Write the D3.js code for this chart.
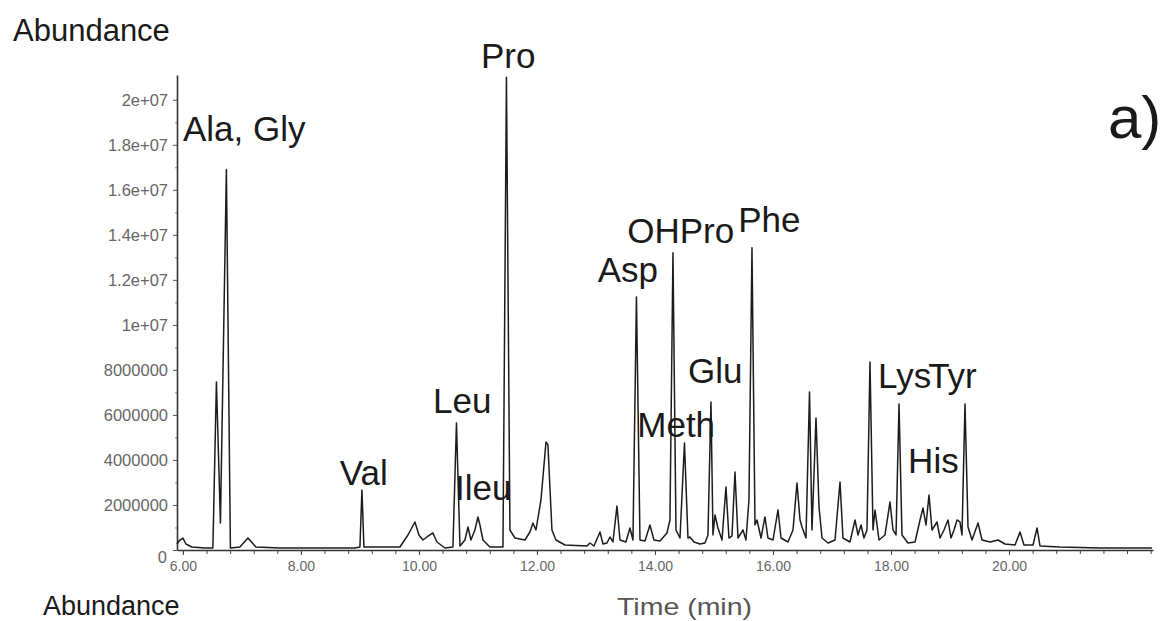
<!DOCTYPE html>
<html><head><meta charset="utf-8">
<script src="https://cdn.jsdelivr.net/npm/d3@7"></script>
<style>body{margin:0;background:#fff;} svg{display:block;}</style></head>
<body>
<svg id="c" width="1166" height="621"></svg>
<script>
const retentionTime = [
5.898, 5.949, 6.000, 6.051, 6.153, 6.373, 6.508, 6.568, 6.636, 6.737,
6.805, 6.966, 7.102, 7.237, 7.644, 8.915, 9.000, 9.034, 9.068, 9.678,
9.814, 9.932, 10.000, 10.068, 10.136, 10.237, 10.305, 10.441, 10.576, 10.636,
10.695, 10.780, 10.831, 10.881, 10.949, 11.000, 11.034, 11.085, 11.203, 11.424,
11.483, 11.542, 11.627, 11.797, 11.881, 11.932, 11.983, 12.068, 12.153, 12.186,
12.254, 12.322, 12.475, 12.847, 12.898, 12.966, 13.068, 13.119, 13.186, 13.237,
13.288, 13.356, 13.407, 13.508, 13.576, 13.627, 13.686, 13.746, 13.831, 13.915,
13.983, 14.085, 14.203, 14.254, 14.305, 14.356, 14.424, 14.500, 14.559, 14.593,
14.661, 14.763, 14.847, 14.898, 14.949, 14.983, 15.017, 15.068, 15.136, 15.203,
15.254, 15.305, 15.356, 15.407, 15.492, 15.542, 15.593, 15.644, 15.695, 15.729,
15.797, 15.864, 15.915, 16.000, 16.085, 16.136, 16.254, 16.339, 16.407, 16.458,
16.492, 16.559, 16.619, 16.661, 16.729, 16.780, 16.831, 16.932, 17.051, 17.136,
17.186, 17.305, 17.390, 17.441, 17.492, 17.542, 17.593, 17.644, 17.695, 17.729,
17.797, 17.898, 17.983, 18.034, 18.085, 18.136, 18.186, 18.288, 18.407, 18.492,
18.542, 18.593, 18.644, 18.695, 18.780, 18.831, 18.898, 18.966, 19.017, 19.068,
19.119, 19.169, 19.203, 19.254, 19.305, 19.373, 19.475, 19.542, 19.678, 19.814,
19.932, 20.102, 20.186, 20.254, 20.407, 20.475, 20.525, 20.864, 21.542, 22.424
];
const abundance = [
267000, 444000, 533000, 267000, 133000, 89000, 89000, 7467000, 1200000, 16890000,
89000, 133000, 533000, 133000, 89000, 89000, 133000, 2667000, 133000, 133000,
667000, 1244000, 667000, 444000, 578000, 756000, 356000, 89000, 133000, 5644000,
178000, 444000, 1022000, 444000, 889000, 1467000, 1111000, 444000, 133000, 133000,
21000000, 889000, 533000, 444000, 800000, 1200000, 889000, 2222000, 4800000, 4667000,
889000, 444000, 222000, 178000, 311000, 178000, 800000, 267000, 311000, 578000,
356000, 1956000, 444000, 356000, 978000, 444000, 11244000, 444000, 400000, 1111000,
444000, 400000, 756000, 1333000, 13200000, 889000, 533000, 4756000, 533000, 578000,
356000, 267000, 311000, 667000, 6578000, 667000, 1556000, 978000, 444000, 2800000,
533000, 622000, 3467000, 533000, 889000, 444000, 2222000, 13422000, 1111000, 1333000,
533000, 1467000, 533000, 444000, 1778000, 533000, 356000, 889000, 2978000, 1333000,
1022000, 533000, 7022000, 889000, 5867000, 1911000, 533000, 311000, 444000, 3022000,
533000, 356000, 1333000, 667000, 1111000, 533000, 889000, 8356000, 889000, 1778000,
444000, 667000, 2133000, 889000, 667000, 6489000, 667000, 311000, 356000, 1333000,
1867000, 1111000, 2444000, 889000, 1244000, 533000, 889000, 1333000, 533000, 889000,
1333000, 1244000, 667000, 6489000, 1022000, 444000, 1200000, 444000, 356000, 444000,
267000, 222000, 800000, 222000, 222000, 978000, 178000, 133000, 89000, 89000
];
const xTickValues = [6, 8, 10, 12, 14, 16, 18, 20];
const xTickLabels = ["6.00", "8.00", "10.00", "12.00", "14.00", "16.00", "18.00", "20.00"];
const yTickValues = [0, 2e6, 4e6, 6e6, 8e6, 1e7, 1.2e7, 1.4e7, 1.6e7, 1.8e7, 2e7];
const yTickLabels = ["0", "2000000", "4000000", "6000000", "8000000", "1e+07", "1.2e+07", "1.4e+07", "1.6e+07", "1.8e+07", "2e+07"];
const peakNames = ["Ala, Gly", "Pro", "Val", "Leu", "Ileu", "Asp", "OHPro", "Phe", "Glu", "Meth", "Lys", "Tyr", "His"];
const peakLabelTime = [6.00, 11.05, 8.66, 10.24, 10.61, 13.03, 13.53, 15.41, 14.56, 13.70, 17.78, 18.63, 18.29];
const peakLabelAbundance = [18.18e6, 21.42e6, 2.89e6, 6.09e6, 2.22e6, 11.91e6, 13.64e6, 14.13e6, 7.42e6, 5.02e6, 7.2e6, 7.2e6, 3.42e6];

const svg = d3.select("#c");
const x = d3.scaleLinear().domain([5.9, 22.44]).range([177, 1153]);
const y = d3.scaleLinear().domain([0, 21.1e6]).range([550, 75]);
const FONT = "'Liberation Sans', Arial, sans-serif";

// minor x ticks every 0.4 min
const xMinor = d3.range(6, 22.41, 0.4);
svg.append("g").attr("transform", "translate(0,550)")
  .call(d3.axisBottom(x).tickValues(xMinor).tickSize(4).tickFormat("").tickSizeOuter(0))
  .call(g => g.select(".domain").remove())
  .selectAll("line").attr("stroke", "#444").attr("stroke-width", 1);

const gx = svg.append("g").attr("transform", "translate(0,550)")
  .call(d3.axisBottom(x).tickValues(xTickValues).tickFormat((d, i) => xTickLabels[i]).tickSize(5).tickPadding(6).tickSizeOuter(0));
gx.select(".domain").attr("stroke", "#333").attr("stroke-width", 1.6);
gx.selectAll("line").attr("stroke", "#444");
gx.selectAll("text").attr("font-family", FONT).attr("font-size", 14).attr("fill", "#666");

// minor y ticks
svg.append("g").attr("transform", "translate(177,0)")
  .call(d3.axisLeft(y).tickValues(d3.range(1e6, 2.1e7, 2e6)).tickSize(2).tickFormat("").tickSizeOuter(0))
  .call(g => g.select(".domain").remove())
  .selectAll("line").attr("stroke", "#888");

const gy = svg.append("g").attr("transform", "translate(177,0)")
  .call(d3.axisLeft(y).tickValues(yTickValues).tickFormat((d, i) => yTickLabels[i]).tickSize(4).tickPadding(5).tickSizeOuter(0));
gy.select(".domain").attr("stroke", "#333").attr("stroke-width", 1.6);
gy.selectAll("line").attr("stroke", "#555");
gy.selectAll("text").attr("font-family", FONT).attr("font-size", 16.5).attr("fill", "#666");
gy.selectAll(".tick").filter(d => d === 0).select("text").attr("dy", "0.75em").attr("x", -10);

// chromatogram
const idx = d3.range(retentionTime.length);
svg.append("path")
  .attr("d", d3.line().x(i => x(retentionTime[i])).y(i => y(abundance[i]))(idx))
  .attr("fill", "none").attr("stroke", "#1c1c1c").attr("stroke-width", 1.5)
  .attr("stroke-linejoin", "round");

// peak labels
svg.append("g").selectAll("text").data(peakNames).join("text")
  .attr("x", (d, i) => x(peakLabelTime[i]))
  .attr("y", (d, i) => y(peakLabelAbundance[i]))
  .attr("font-family", FONT).attr("font-size", 35).attr("fill", "#1a1a1a")
  .text(d => d);

// other texts
svg.append("text").attr("x", 13).attr("y", 41).attr("font-family", FONT).attr("font-size", 31)
  .attr("fill", "#1a1a1a").text("Abundance");
svg.append("text").attr("x", 43).attr("y", 615).attr("font-family", FONT).attr("font-size", 27)
  .attr("fill", "#1a1a1a").text("Abundance");
svg.append("text").attr("x", 617).attr("y", 615).attr("font-family", FONT).attr("font-size", 24)
  .attr("textLength", 135).attr("lengthAdjust", "spacingAndGlyphs")
  .attr("fill", "#555").text("Time (min)");
svg.append("text").attr("x", 1108).attr("y", 138).attr("font-family", FONT).attr("font-size", 60)
  .attr("fill", "#1a1a1a").text("a)");
</script>
</body></html>
